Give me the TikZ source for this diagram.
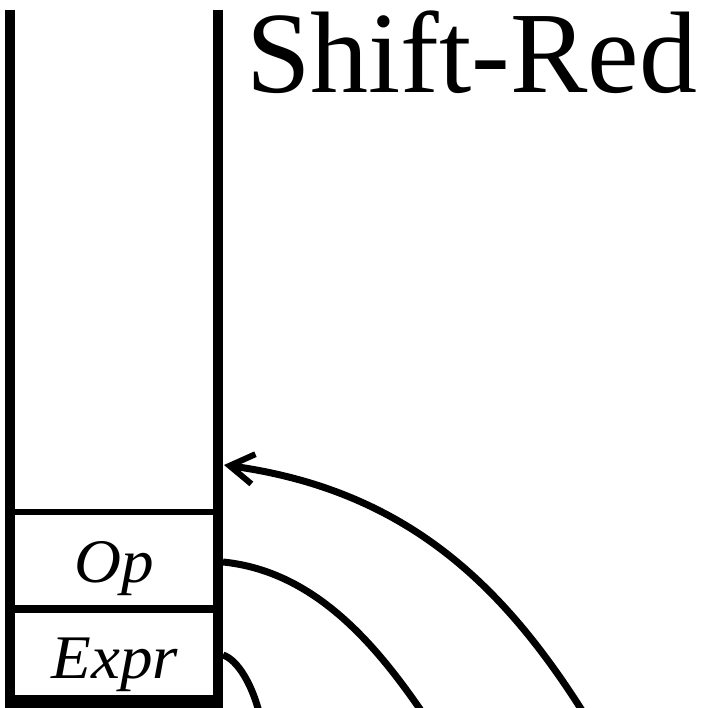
\documentclass[tikz,border=0pt]{standalone}
\usepackage{fontspec}
\setmainfont{Liberation Serif}
\usetikzlibrary{arrows.meta}
\newcommand{\cellwide}[1]{\scalebox{1.05}[1]{#1}}
\begin{document}
\begin{tikzpicture}[x=1pt,y=-1pt,
  wall/.style={line width=10pt},
  divider/.style={line width=6pt},
  link/.style={line width=7pt},
  cell/.style={inner sep=0pt, font=\fontsize{62}{68}\selectfont\itshape},
  title/.style={inner sep=0pt, anchor=base west, font=\fontsize{116}{122}\selectfont}]
\useasboundingbox (0,0) rectangle (702,708);
\clip (0,0) rectangle (702,708);
% stack walls
\draw[wall] (9.5,10) -- (9.5,720);
\draw[wall] (218,10) -- (218,720);
\draw[divider] (5,512) -- (223,512);
\draw[line width=8pt] (5,609) -- (223,609);
\draw[line width=13pt] (5,701.5) -- (223,701.5);
% cells
\node[cell, anchor=base] (op) at (114,582) {\cellwide{Op}};
\node[cell, anchor=base] (expr) at (115,678) {\cellwide{Expr}};
% title
\node[title] (ttl) at (246,93) {Shift-Red};
% connector endpoints
\coordinate (top) at (224,465);
\coordinate (a1) at (583,712);
\coordinate (opR) at (223,562);
\coordinate (a2) at (422,712);
\coordinate (exR) at (223,655);
\coordinate (a3) at (259,712);
% arcs
\draw[link, -{Straight Barb[length=24pt,width=30pt,line width=6pt]}] (a1) .. controls (502,584) and (405,490) .. (top);
\draw[link] (opR) .. controls (313,571) and (374,642) .. (a2);
\draw[link] (exR) .. controls (238,660) and (252,685) .. (a3);
\end{tikzpicture}
\end{document}
